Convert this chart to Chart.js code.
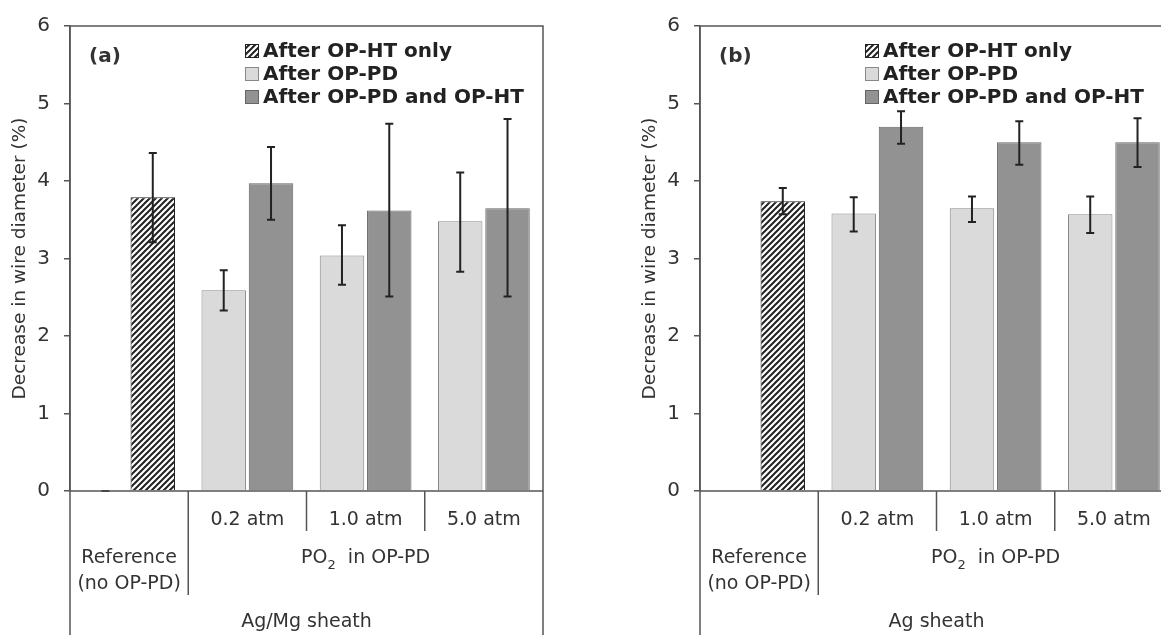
<!DOCTYPE html>
<html>
<head>
<meta charset="utf-8">
<script src="https://cdn.jsdelivr.net/npm/chart.js@4.4.0/dist/chart.umd.min.js"></script>
<style>
  html, body { margin: 0; padding: 0; background: #fff; overflow: hidden; }
  #wrap { position: relative; width: 1161px; height: 635px; overflow: hidden; }
  .panel { position: absolute; top: 0; width: 580px; height: 635px; }
  #panelA { left: 0; }
  #panelB { left: 630px; }
</style>
</head>
<body>
<div id="wrap">
  <div class="panel" id="panelA"><canvas id="chartA"></canvas></div>
  <div class="panel" id="panelB"><canvas id="chartB"></canvas></div>
</div>
<script>
// categories on the x axis
var categories = ['Reference', '0.2 atm', '1.0 atm', '5.0 atm']
var referenceLines = ['Reference', '(no OP-PD)']
var seriesNames = ['After OP-HT only', 'After OP-PD', 'After OP-PD and OP-HT']
var yTitle = 'Decrease in wire diameter (%)'

// (a) Ag/Mg sheath
var htOnlyA = [3.79, null, null, null]
var htOnlyLowA = [3.21, null, null, null]
var htOnlyHighA = [4.36, null, null, null]
var pdA = [0, 2.59, 3.04, 3.48]
var pdLowA = [0, 2.33, 2.66, 2.83]
var pdHighA = [0, 2.85, 3.43, 4.11]
var pdHtA = [null, 3.97, 3.62, 3.65]
var pdHtLowA = [null, 3.50, 2.51, 2.51]
var pdHtHighA = [null, 4.44, 4.74, 4.80]

// (b) Ag sheath
var htOnlyB = [3.74, null, null, null]
var htOnlyLowB = [3.57, null, null, null]
var htOnlyHighB = [3.91, null, null, null]
var pdB = [null, 3.58, 3.65, 3.57]
var pdLowB = [null, 3.35, 3.47, 3.33]
var pdHighB = [null, 3.79, 3.80, 3.80]
var pdHtB = [null, 4.70, 4.50, 4.50]
var pdHtLowB = [null, 4.48, 4.21, 4.18]
var pdHtHighB = [null, 4.90, 4.77, 4.81]

var FONT = "'DejaVu Sans', Verdana, sans-serif"
var LINE = '#555'
var LIGHT = '#dadada'
var DARK = '#929292'

function hatchPattern(){
    var s = 6
    var c = document.createElement('canvas')
    c.width = s; c.height = s
    var g = c.getContext('2d')
    g.fillStyle = '#fff'
    g.fillRect(0, 0, s, s)
    g.strokeStyle = '#222'
    g.lineWidth = 2
    g.beginPath()
    g.moveTo(0, s); g.lineTo(s, 0)
    g.moveTo(-1, 1); g.lineTo(1, -1)
    g.moveTo(s - 1, s + 1); g.lineTo(s + 1, s - 1)
    g.stroke()
    return g.createPattern(c, 'repeat')
}

var errorBars = {
    id: 'errorBars',
    afterDatasetsDraw(chart){
        var ctx = chart.ctx
        var y = chart.scales.y
        ctx.save()
        ctx.strokeStyle = '#222'
        ctx.lineWidth = 2
        chart.data.datasets.forEach(function(ds, di){
            var meta = chart.getDatasetMeta(di)
            ds.data.forEach(function(v, i){
                if(v === null || ds.errLow[i] === null) return
                var x = meta.data[i].x
                var hi = y.getPixelForValue(ds.errHigh[i])
                var lo = y.getPixelForValue(ds.errLow[i])
                ctx.beginPath()
                ctx.moveTo(x, hi); ctx.lineTo(x, lo)
                ctx.moveTo(x - 4, hi); ctx.lineTo(x + 4, hi)
                ctx.moveTo(x - 4, lo); ctx.lineTo(x + 4, lo)
                ctx.stroke()
            })
        })
        ctx.restore()
    }
}

var sheathTable = {
    id: 'sheathTable',
    afterDraw(chart){
        var ctx = chart.ctx
        var a = chart.chartArea
        var x = chart.scales.x
        var opt = chart.options.plugins.sheathTable
        var catW = x.width / categories.length
        ctx.save()
        ctx.strokeStyle = LINE
        ctx.lineWidth = 1.5
        ctx.beginPath()
        ctx.moveTo(a.left, chart.height); ctx.lineTo(a.left, a.top)
        ctx.lineTo(a.right, a.top); ctx.lineTo(a.right, chart.height)
        ctx.moveTo(a.left, a.bottom); ctx.lineTo(a.right, a.bottom)
        for(var i = 1; i < categories.length; i++){
            var sx = x.getPixelForValue(i) - catW / 2
            ctx.moveTo(sx, a.bottom)
            ctx.lineTo(sx, a.bottom + (i === 1 ? 104 : 40))
        }
        ctx.stroke()

        ctx.fillStyle = '#333'
        ctx.textAlign = 'center'
        ctx.textBaseline = 'middle'
        ctx.font = '19px ' + FONT
        for(var i = 1; i < categories.length; i++){
            ctx.fillText(categories[i], x.getPixelForValue(i), a.bottom + 29)
        }
        var refX = x.getPixelForValue(0)
        ctx.fillText(referenceLines[0], refX, a.bottom + 67)
        ctx.fillText(referenceLines[1], refX, a.bottom + 93)

        // PO2 in OP-PD, centred over the three pressure columns
        var midX = (x.getPixelForValue(1) - catW / 2 + a.right) / 2
        var p1 = 'PO', p2 = '2', p3 = '  in OP-PD'
        ctx.font = '19px ' + FONT
        var w1 = ctx.measureText(p1).width, w3 = ctx.measureText(p3).width
        ctx.font = '13px ' + FONT
        var w2 = ctx.measureText(p2).width
        var sx = midX - (w1 + w2 + w3) / 2
        ctx.textAlign = 'left'
        ctx.font = '19px ' + FONT
        ctx.fillText(p1, sx, a.bottom + 67)
        ctx.fillText(p3, sx + w1 + w2, a.bottom + 67)
        ctx.font = '13px ' + FONT
        ctx.fillText(p2, sx + w1, a.bottom + 75)

        ctx.textAlign = 'center'
        ctx.font = '19px ' + FONT
        ctx.fillText(opt.sheath, (a.left + a.right) / 2, a.bottom + 131)

        // panel letter
        ctx.font = 'bold 20px ' + FONT
        ctx.textAlign = 'left'
        ctx.fillText(opt.letter, a.left + 19, a.top + 31)

        // legend
        var lx = a.left + opt.legendX
        var rows = [
            { name: seriesNames[0], fill: chart.data.datasets[1].backgroundColor[0], border: '#222' },
            { name: seriesNames[1], fill: LIGHT, border: '#888' },
            { name: seriesNames[2], fill: DARK, border: '#666' }
        ]
        ctx.font = 'bold 20px ' + FONT
        rows.forEach(function(r, k){
            var cy = a.top + 25 + k * 23
            ctx.fillStyle = r.fill
            ctx.fillRect(lx, cy - 7, 14, 14)
            ctx.strokeStyle = r.border
            ctx.lineWidth = 1
            ctx.strokeRect(lx + 0.5, cy - 6.5, 13, 13)
            ctx.fillStyle = '#222'
            ctx.fillText(r.name, lx + 18, cy + 1)
        })
        ctx.restore()
    }
}

function makeChart(canvasId, panel){
    var hatch = hatchPattern()
    var ctx = document.getElementById(canvasId)
    return new Chart(ctx, {
        type: 'bar',
        data: {
            labels: categories,
            datasets: [
                {
                    label: seriesNames[1], data: panel.pd, errLow: panel.pdLow, errHigh: panel.pdHigh,
                    stack: 'left', backgroundColor: LIGHT, borderColor: '#888', borderWidth: 1
                },
                {
                    label: seriesNames[0], data: panel.htOnly, errLow: panel.htOnlyLow, errHigh: panel.htOnlyHigh,
                    stack: 'right', backgroundColor: [hatch, hatch, hatch, hatch], borderColor: '#222', borderWidth: 1
                },
                {
                    label: seriesNames[2], data: panel.pdHt, errLow: panel.pdHtLow, errHigh: panel.pdHtHigh,
                    stack: 'right', backgroundColor: DARK, borderColor: '#666', borderWidth: 1
                }
            ]
        },
        options: {
            responsive: true,
            maintainAspectRatio: false,
            animation: false,
            categoryPercentage: 0.8,
            barPercentage: 0.94,
            layout: { padding: { top: 22, right: 37, bottom: 144, left: 0 } },
            plugins: {
                legend: { display: false },
                tooltip: { enabled: false },
                sheathTable: panel.table
            },
            scales: {
                x: { display: false },
                y: {
                    min: 0, max: 6,
                    ticks: { stepSize: 1, padding: 14, color: '#333', font: { family: FONT, size: 20 } },
                    grid: { drawOnChartArea: false, tickLength: 6, color: LINE, lineWidth: 1.5 },
                    border: { color: LINE, width: 1.5 },
                    title: { display: true, text: yTitle, color: '#333', padding: { top: 9, bottom: 0 }, font: { family: FONT, size: 18.5 } },
                    afterFit: function(scale){ scale.width = 70 }
                }
            }
        },
        plugins: [errorBars, sheathTable]
    })
}

makeChart('chartA', {
    htOnly: htOnlyA, htOnlyLow: htOnlyLowA, htOnlyHigh: htOnlyHighA,
    pd: pdA, pdLow: pdLowA, pdHigh: pdHighA,
    pdHt: pdHtA, pdHtLow: pdHtLowA, pdHtHigh: pdHtHighA,
    table: { sheath: 'Ag/Mg sheath', letter: '(a)', legendX: 175 }
})

makeChart('chartB', {
    htOnly: htOnlyB, htOnlyLow: htOnlyLowB, htOnlyHigh: htOnlyHighB,
    pd: pdB, pdLow: pdLowB, pdHigh: pdHighB,
    pdHt: pdHtB, pdHtLow: pdHtLowB, pdHtHigh: pdHtHighB,
    table: { sheath: 'Ag sheath', letter: '(b)', legendX: 165 }
})
</script>
</body>
</html>
